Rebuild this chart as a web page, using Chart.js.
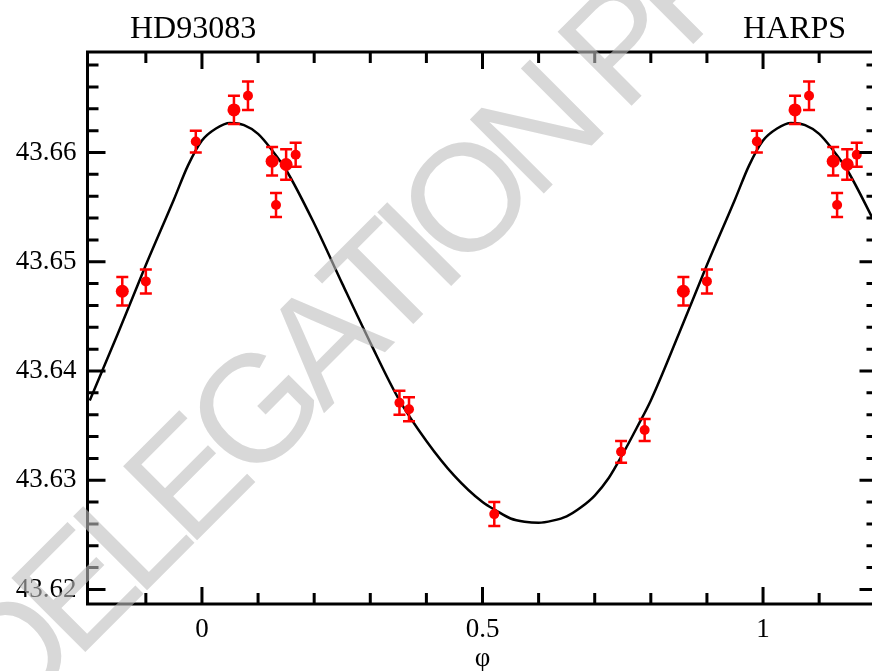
<html>
<head>
<script src="https://cdn.jsdelivr.net/npm/chart.js"></script>
<style>
    body { margin: 0; overflow: hidden; background: #fff; }
    #wrap { position: relative; width: 884px; height: 671px; }
</style>
</head>
<body>
<div id="wrap"><canvas id="rvChart"></canvas></div>
<script>
// HARPS radial velocities of HD93083 folded on the orbital phase (km/s)
var obsPhase = [0.057, 0.082, 0.125, 0.132, 0.150, 0.167, 0.352, 0.369, 0.521, 0.747, 0.789, 0.858, 0.900, 0.989];
var obsRV    = [43.6639, 43.6652, 43.6592, 43.6552, 43.6589, 43.6598, 43.6371, 43.6365, 43.6269, 43.6326, 43.6346, 43.6473, 43.6482, 43.6610];
var obsErr   = [0.0013, 0.0013, 0.0013, 0.0011, 0.0014, 0.0011, 0.0011, 0.0011, 0.0011, 0.0010, 0.0010, 0.0013, 0.0011, 0.0010];

// orbital solution
var fitPhase = [-0.2, -0.15, -0.1, -0.05, -0.025, 0, 0.025, 0.05, 0.075, 0.1, 0.125, 0.15, 0.2, 0.25, 0.3, 0.35, 0.4, 0.45,
                0.5, 0.525, 0.55, 0.575, 0.6, 0.625, 0.65, 0.675, 0.7, 0.725, 0.75, 0.775, 0.8, 0.85, 0.9, 0.95, 0.975,
                1.0, 1.025, 1.05, 1.075, 1.1, 1.125, 1.15, 1.2];
var fitRV = [43.6373, 43.6434, 43.6497, 43.6557, 43.6588, 43.6611, 43.6622, 43.6627, 43.6625, 43.6617, 43.6602, 43.6584,
             43.6535, 43.6480, 43.6426, 43.6375, 43.6336, 43.6304, 43.6280, 43.6272, 43.6265, 43.6262, 43.6261, 43.6263,
             43.6267, 43.6275, 43.6286, 43.6302, 43.6324, 43.6348, 43.6373, 43.6434, 43.6497, 43.6557, 43.6588,
             43.6611, 43.6622, 43.6627, 43.6625, 43.6617, 43.6602, 43.6584, 43.6535];

var xTicks = [0, 0.5, 1];
var xTickLabels = ['0', '0.5', '1'];
var xMinor = [-0.1, 0.1, 0.2, 0.3, 0.4, 0.6, 0.7, 0.8, 0.9, 1.1];
var yTicks = [43.62, 43.63, 43.64, 43.65, 43.66];
var yTickLabels = ['43.62', '43.63', '43.64', '43.65', '43.66'];
var yMinor = [43.622, 43.624, 43.626, 43.628, 43.632, 43.634, 43.636, 43.638, 43.642, 43.644, 43.646, 43.648,
              43.652, 43.654, 43.656, 43.658, 43.662, 43.664, 43.666, 43.668];

var xMin = -0.204, xMax = 1.204;
var yMin = 43.61867, yMax = 43.66920;

// points with the larger symbol in the original figure
var bigSymbols = [0, 2, 4, 11];

// fold: show each observation again one cycle earlier/later when it falls in the window
var pts = [];
for (var i = 0; i < obsPhase.length; i++) {
    [-1, 0, 1].forEach(function(k) {
        var p = obsPhase[i] + k;
        if (p >= -0.2 && p <= 1.2) pts.push({x: p, y: obsRV[i], err: obsErr[i], big: bigSymbols.indexOf(i) >= 0});
    });
}

var serif = "'Liberation Serif', 'DejaVu Serif', serif";

function drawWatermark(c) {
    var text = 'DELEGATION PROOF';
    c.save();
    c.font = "152px 'Liberation Sans', sans-serif";
    c.fillStyle = 'rgba(190,190,190,0.6)';
    c.textBaseline = 'middle';
    // spread so that the D and the P centres land where they sit in the original
    var w = text.split('').map(function(ch) { return c.measureText(ch).width; });
    var run = w[0] / 2 + w[10] + w[11] / 2;
    for (var k = 1; k < 10; k++) run += w[k];
    var gap = (864 - run) / 11;
    c.translate(18, 660);
    c.rotate(-45 * Math.PI / 180);
    var x = -w[0] / 2;
    text.split('').forEach(function(ch, k) {
        c.fillText(ch, x, 0);
        x += w[k] + gap;
    });
    c.restore();
}

var frame = {
    id: 'frame',
    afterDatasetDraw: function(chart, args) {
        if (args.index !== 1) return;
        var c = chart.ctx, xs = chart.scales.x, ys = chart.scales.y;
        c.save();
        c.strokeStyle = '#ff0000';
        c.lineWidth = 2.5;
        pts.forEach(function(p) {
            var px = xs.getPixelForValue(p.x);
            var top = ys.getPixelForValue(p.y + p.err), bot = ys.getPixelForValue(p.y - p.err);
            c.beginPath();
            c.moveTo(px, top); c.lineTo(px, bot);
            c.moveTo(px - 6, top); c.lineTo(px + 6, top);
            c.moveTo(px - 6, bot); c.lineTo(px + 6, bot);
            c.stroke();
        });
        c.restore();
    },
    afterDraw: function(chart) {
        var c = chart.ctx, a = chart.chartArea, xs = chart.scales.x, ys = chart.scales.y;
        c.save();
        c.strokeStyle = '#000';
        c.lineWidth = 3;
        c.strokeRect(a.left, a.top, a.right - a.left, a.bottom - a.top);
        c.beginPath();
        function xt(v, len) {
            var px = xs.getPixelForValue(v);
            c.moveTo(px, a.bottom); c.lineTo(px, a.bottom - len);
            c.moveTo(px, a.top); c.lineTo(px, a.top + len);
        }
        function yt(v, len) {
            var py = ys.getPixelForValue(v);
            c.moveTo(a.left, py); c.lineTo(a.left + len, py);
            c.moveTo(a.right, py); c.lineTo(a.right - len, py);
        }
        xTicks.forEach(function(v) { xt(v, 17); });
        xMinor.forEach(function(v) { xt(v, 11); });
        yTicks.forEach(function(v) { yt(v, 18); });
        yMinor.forEach(function(v) { yt(v, 11); });
        c.stroke();

        c.fillStyle = '#000';
        c.font = '32px ' + serif;
        c.textBaseline = 'alphabetic';
        c.textAlign = 'left';
        c.fillText('HD93083', 130, 38);
        c.fillText('HARPS', 743, 38);
        c.restore();

        drawWatermark(c);
    }
};

new Chart(document.getElementById('rvChart'), {
    data: {
        datasets: [
            {
                type: 'scatter',
                data: pts,
                order: 0,
                backgroundColor: '#ff0000',
                borderColor: '#ff0000',
                borderWidth: 0,
                pointRadius: function(ctx) { var d = ctx.raw; return d && d.big ? 6.5 : 5; }
            },
            {
                type: 'line',
                data: fitPhase.map(function(p, i) { return {x: p, y: fitRV[i]}; }),
                order: 1,
                borderColor: '#000',
                borderWidth: 2.5,
                pointRadius: 0,
                fill: false,
                cubicInterpolationMode: 'monotone'
            }
        ]
    },
    options: {
        responsive: true,
        maintainAspectRatio: false,
        animation: false,
        events: [],
        layout: { padding: { left: 0, top: 52, right: 2.4, bottom: 0 } },
        plugins: { legend: { display: false }, tooltip: { enabled: false } },
        scales: {
            x: {
                type: 'linear',
                min: xMin, max: xMax,
                afterBuildTicks: function(s) { s.ticks = xTicks.map(function(v) { return {value: v}; }); },
                afterFit: function(s) { s.height = 67; },
                grid: { display: false, drawTicks: false },
                border: { display: false },
                ticks: {
                    padding: 10,
                    color: '#000',
                    font: { family: serif, size: 27 },
                    maxRotation: 0,
                    callback: function(v) { return xTickLabels[xTicks.indexOf(v)]; }
                },
                title: { display: true, text: 'φ', color: '#000', font: { family: serif, size: 27, lineHeight: 0.9 }, padding: 0 }
            },
            y: {
                type: 'linear',
                min: yMin, max: yMax,
                afterBuildTicks: function(s) { s.ticks = yTicks.map(function(v) { return {value: v}; }); },
                afterFit: function(s) { s.width = 87.5; },
                grid: { display: false, drawTicks: false },
                border: { display: false },
                ticks: {
                    padding: 11,
                    color: '#000',
                    font: { family: serif, size: 27 },
                    callback: function(v) { return yTickLabels[yTicks.indexOf(v)]; }
                }
            }
        }
    },
    plugins: [frame]
});
</script>
</body>
</html>
